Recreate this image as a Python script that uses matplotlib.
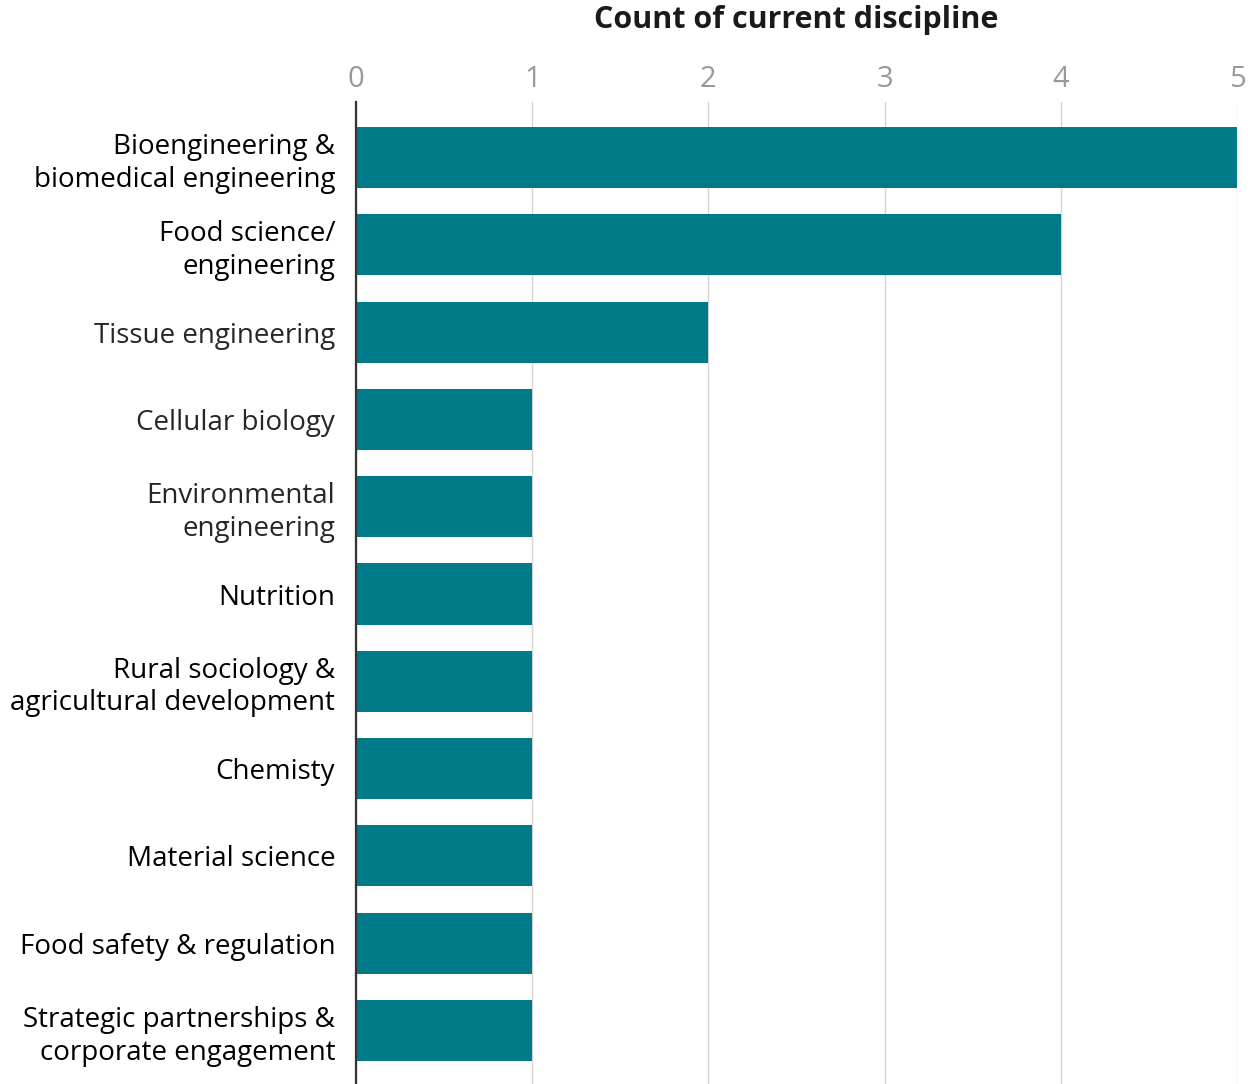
import matplotlib.pyplot as plt

plt.rcParams['font.family'] = ['Open Sans', 'DejaVu Sans']

categories = [
    "Bioengineering &\nbiomedical engineering",
    "Food science/\nengineering",
    "Tissue engineering",
    "Cellular biology",
    "Environmental\nengineering",
    "Nutrition",
    "Rural sociology &\nagricultural development",
    "Chemisty",
    "Material science",
    "Food safety & regulation",
    "Strategic partnerships &\ncorporate engagement",
]
counts = [5, 4, 2, 1, 1, 1, 1, 1, 1, 1, 1]
label_colors = ["#000000", "#000000", "#262626", "#262626", "#262626", "#000000",
                "#000000", "#000000", "#000000", "#000000", "#000000"]
ticks = [0, 1, 2, 3, 4, 5]

fig = plt.figure(figsize=(12.48, 10.84), dpi=100)
ax = fig.add_axes([356 / 1248, 0, (1237 - 356) / 1248, 1 - 102 / 1084])

y = list(range(len(categories)))
ax.barh(y, counts, height=0.70, color="#007A87", zorder=2)

ax.set_xlim(0, 5)
ax.set_ylim(10.613, -0.636)

ax.xaxis.tick_top()
ax.set_xticks(ticks)
ax.set_xticklabels([str(t) for t in ticks], fontsize=21, color="#999999")
ax.tick_params(axis="x", length=0, pad=6)
ax.grid(axis="x", color="#d4d4d4", linewidth=1, zorder=3)

ax.set_yticks(y)
ax.set_yticklabels(categories, fontsize=20, linespacing=1.22)
for lbl, c in zip(ax.get_yticklabels(), label_colors):
    lbl.set_color(c)
ax.tick_params(axis="y", length=0, pad=15)

for s in ["top", "right", "bottom"]:
    ax.spines[s].set_visible(False)
ax.spines["left"].set_color("#333333")
ax.spines["left"].set_linewidth(1.6)
ax.spines["left"].set_zorder(4)

fig.text(796 / 1248, 1 - 20 / 1084, "Count of current discipline",
         ha="center", va="center", fontsize=22, fontweight="bold", color="#1a1a1a")

fig.savefig("out.png", dpi=100)
